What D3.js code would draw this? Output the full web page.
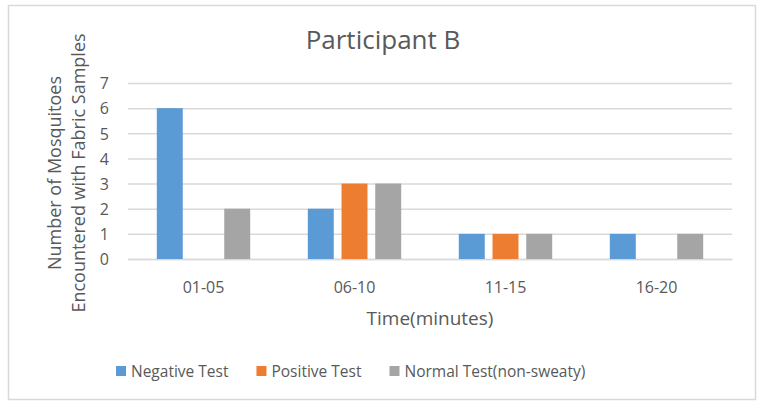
<!DOCTYPE html>
<html>
<head>
<meta charset="utf-8">
<script src="https://cdnjs.cloudflare.com/ajax/libs/d3/7.8.5/d3.min.js"></script>
<style>
  body { margin: 0; background: #fff; }
  svg text { font-family: "Open Sans", sans-serif; fill: #595959; }
</style>
</head>
<body>
<svg id="chart"></svg>
<script>
//chart data
var categories = ["01-05", "06-10", "11-15", "16-20"];
var seriesNames = ["Negative Test", "Positive Test", "Normal Test(non-sweaty)"];
var negativeTest = [6, 2, 1, 1];
var positiveTest = [0, 3, 1, 0];
var normalTest = [2, 3, 1, 1];
var yTicks = [0, 1, 2, 3, 4, 5, 6, 7];

var seriesValues = [negativeTest, positiveTest, normalTest];
var colors = d3.scaleOrdinal().domain(seriesNames).range(["#5B9BD5", "#ED7D31", "#A5A5A5"]);

var width = 757,
    height = 401;

var svg = d3.select("#chart")
    .attr("width", width)
    .attr("height", height);

//outer frame like the excel chart area
svg.append("rect")
    .attr("x", 8.5)
    .attr("y", 5.5)
    .attr("width", 747)
    .attr("height", 394)
    .attr("fill", "#fff")
    .attr("stroke", "#d9d9d9")
    .attr("stroke-width", 1.5);

var plot = {left: 128, right: 732, top: 83, bottom: 259};

var x0 = d3.scaleBand()
    .domain(categories)
    .range([plot.left, plot.right]);

var outer = 28.8;
var x1 = d3.scaleBand()
    .domain(seriesNames)
    .range([outer, x0.bandwidth() - outer])
    .paddingInner(0.23);

var y = d3.scaleLinear()
    .domain([0, 7])
    .range([plot.bottom, plot.top]);

//gridlines + y labels
var yAxis = d3.axisLeft(y)
    .tickValues(yTicks)
    .tickSize(-(plot.right - plot.left))
    .tickPadding(19)
    .tickFormat(d3.format("d"));

var gy = svg.append("g")
    .attr("transform", "translate(" + plot.left + ",0)")
    .call(yAxis);
gy.select(".domain").remove();
gy.selectAll(".tick line").attr("stroke", "#d9d9d9").attr("stroke-width", 1.5);
gy.selectAll(".tick text")
    .style("font-size", "16px")
    .attr("dy", "0.36em");

//x labels
var xAxis = d3.axisBottom(x0).tickSize(0).tickPadding(23);
var gx = svg.append("g")
    .attr("transform", "translate(0," + plot.bottom + ")")
    .call(xAxis);
gx.select(".domain").attr("stroke", "#d9d9d9").attr("stroke-width", 1.5);
gx.selectAll(".tick text").style("font-size", "16px");

//bars
var rows = categories.map(function(c, i) {
  return {cat: c, vals: seriesNames.map(function(s, j) {
    return {name: s, value: seriesValues[j][i]};
  })};
});

var groups = svg.selectAll(".group")
    .data(rows)
  .enter().append("g")
    .attr("class", "group")
    .attr("transform", function(d) { return "translate(" + x0(d.cat) + ",0)"; });

groups.selectAll("rect")
    .data(function(d) { return d.vals.filter(function(v) { return v.value > 0; }); })
  .enter().append("rect")
    .attr("x", function(d) { return x1(d.name); })
    .attr("y", function(d) { return y(d.value); })
    .attr("width", x1.bandwidth())
    .attr("height", function(d) { return y(0) - y(d.value); })
    .attr("fill", function(d) { return colors(d.name); });

//titles
svg.append("text")
    .attr("x", 383)
    .attr("y", 49)
    .attr("text-anchor", "middle")
    .style("font-size", "26px")
    .text("Participant B");

svg.append("text")
    .attr("x", (plot.left + plot.right) / 2)
    .attr("y", 325)
    .attr("text-anchor", "middle")
    .style("font-size", "19px")
    .text("Time(minutes)");

var yTitle = svg.append("text")
    .attr("transform", "translate(0," + ((plot.top + plot.bottom) / 2 + 2) + ") rotate(-90)")
    .attr("text-anchor", "middle")
    .style("font-size", "18px");
yTitle.append("tspan").attr("x", 0).attr("y", 61).text("Number of Mosquitoes");
yTitle.append("tspan").attr("x", 0).attr("y", 85).text("Encountered with Fabric Samples");

//legend
var legend = svg.append("g").attr("transform", "translate(116,371)");
var lx = 0;
seriesNames.forEach(function(s) {
  var item = legend.append("g").attr("transform", "translate(" + lx + ",0)");
  item.append("rect")
      .attr("x", 0)
      .attr("y", -5)
      .attr("width", 10)
      .attr("height", 10)
      .attr("fill", colors(s));
  var t = item.append("text")
      .attr("x", 15)
      .attr("y", 5.5)
      .style("font-size", "15.5px")
      .text(s);
  lx += 15 + t.node().getComputedTextLength() + 28;
});
</script>
</body>
</html>
